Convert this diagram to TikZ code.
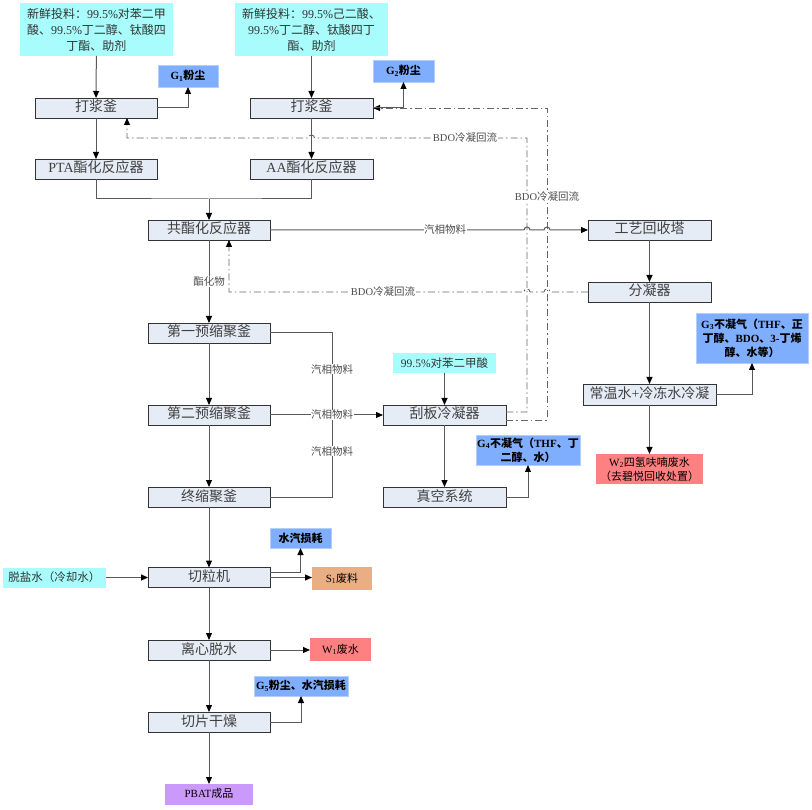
\documentclass[tikz,border=0pt]{standalone}
\usepackage{fontspec}
\setmainfont{Noto Sans CJK SC}
\newfontfamily\latfont{Liberation Serif}
\newcommand\lt[1]{{\latfont #1}}
\usetikzlibrary{arrows.meta,calc,positioning}

\definecolor{procfill}{HTML}{E6ECF6}
\definecolor{feedcyan}{HTML}{A8FCFC}
\definecolor{emisblue}{HTML}{7FAEFE}
\definecolor{wastered}{HTML}{FF8080}
\definecolor{wasteorange}{HTML}{E9AE84}
\definecolor{prodpurple}{HTML}{CB99FB}

\begin{document}
\begin{tikzpicture}[
        x=1pt, y=1pt,
        node distance=40pt,
        proc/.style={draw=black!80, line width=0.9pt, outer sep=0pt, fill=procfill, minimum width=122pt, minimum height=20pt, inner sep=1pt, text height=10.5pt, text depth=2.5pt, font=\fontsize{14}{16}\selectfont, text=black!75},
        feed/.style={fill=feedcyan, inner sep=2pt, outer sep=0pt, align=center, font=\fontsize{12}{16}\selectfont, text=black!80},
        emis/.style={fill=emisblue, draw=emisblue!60!white, outer sep=0pt, align=center, inner sep=1pt, font=\bfseries\fontsize{11}{14}\selectfont},
        waste/.style={align=center, inner sep=1pt, outer sep=0pt, font=\fontsize{11}{14}\selectfont},
        lbl/.style={fill=white, inner sep=0.5pt, font=\fontsize{10.5}{12}\selectfont, text=black!70},
        line/.style={draw=black!65, line width=1pt},
        arrow/.style={line, -{Triangle[length=7pt,width=6pt,color=black]}},
        bdo/.style={draw=black!60, line width=0.9pt, dash pattern=on 7pt off 3pt on 1.5pt off 3pt},
        bdoarrow/.style={bdo, -{Triangle[length=7pt,width=6pt,color=black]}}
    ]
        \useasboundingbox (0,0) rectangle (812,-810);

        % feeds and slurry tanks
        \node[feed, minimum width=153pt, minimum height=53pt] (feed1) at (96.5,-29.5) {新鲜投料：\lt{99.5\%}对苯二甲\\酸、\lt{99.5\%}丁二醇、钛酸四\\丁酯、助剂};
        \node[feed, minimum width=153pt, minimum height=53pt] (feed2) at (311.5,-29.5) {新鲜投料：\lt{99.5\%}己二酸、\\\lt{99.5\%}丁二醇、钛酸四丁\\酯、助剂};
        \node[proc] (slurry1) at (96,-108) {打浆釜};
        \node[proc, minimum width=123pt] (slurry2) at (311.5,-108) {打浆釜};
        \node[proc, below=41pt of slurry1] (pta) {\lt{PTA}酯化反应器};
        \node[proc, minimum width=123pt, below=41pt of slurry2] (aa) {\lt{AA}酯化反应器};
        \node[emis, minimum width=60pt, minimum height=22pt] (g1) at (188,-76) {\lt{G\textsubscript{1}}粉尘};
        \node[emis, minimum width=61pt, minimum height=22pt] (g2) at (403.5,-71) {\lt{G\textsubscript{2}}粉尘};

        % main column
        \node[proc] (coest) at (209,-230) {共酯化反应器};
        \node[proc, below=83pt of coest] (pre1) {第一预缩聚釜};
        \node[proc, below=62pt of pre1] (pre2) {第二预缩聚釜};
        \node[proc, below=62pt of pre2] (final) {终缩聚釜};
        \node[proc, below=60.5pt of final] (cutter) {切粒机};
        \node[proc, below=52.5pt of cutter] (centri) {离心脱水};
        \node[proc, below=52pt of centri] (dryer) {切片干燥};
        \node[waste, fill=prodpurple, minimum width=88pt, minimum height=21pt, text height=8.5pt, text depth=2pt, below=52pt of dryer] (pbat) {\lt{PBAT}成品};

        \node[feed, minimum width=103pt, minimum height=20pt, font=\fontsize{11.5}{14}\selectfont] (water) at (54.5,-577.5) {脱盐水（冷却水）};
        \node[emis, minimum width=61pt, minimum height=20pt] (steam) at (300.5,-538) {水汽损耗};
        \node[waste, fill=wasteorange, minimum width=60pt, minimum height=23pt] (s1) at (342,-578.5) {\lt{S\textsubscript{1}}废料};
        \node[waste, fill=wastered, minimum width=61pt, minimum height=23pt] (w1) at (340.5,-649.5) {\lt{W\textsubscript{1}}废水};
        \node[emis, minimum width=94pt, minimum height=20pt] (g5) at (301,-686) {\lt{G\textsubscript{5}}粉尘、水汽损耗};

        % condenser / vacuum
        \node[proc, minimum width=123pt] (scraper) at (444.5,-415) {刮板冷凝器};
        \node[feed, minimum width=103pt, minimum height=20pt, font=\fontsize{11.5}{14}\selectfont] (pta2) at (444.5,-363) {\lt{99.5\%}对苯二甲酸};
        \node[proc, minimum width=123pt, below=62pt of scraper] (vacuum) {真空系统};
        \node[emis, minimum width=104pt, minimum height=30pt] (g4) at (528,-450) {\lt{G\textsubscript{4}}不凝气（\lt{THF}、丁\\二醇、水）};

        % recovery
        \node[proc, minimum width=123pt] (tower) at (649.5,-230) {工艺回收塔};
        \node[proc, minimum width=123pt, below=42pt of tower] (partial) {分凝器};
        \node[proc, minimum width=133pt, minimum height=21pt, below=82pt of partial] (cond) {常温水\lt{+}冷冻水冷凝};
        \node[waste, fill=wastered, minimum width=107pt, minimum height=30pt] (w2) at (649.5,-469) {\lt{W\textsubscript{2}}四氢呋喃废水\\（去碧悦回收处置）};
        \node[emis, minimum width=112pt, minimum height=50pt] (g3) at (752,-338) {\lt{G\textsubscript{3}}不凝气（\lt{THF}、正\\丁醇、\lt{BDO}、\lt{3-}丁烯\\醇、水等）};

        \coordinate (join) at (209,-199);
        \coordinate (bdoA) at (527,-138);
        \coordinate (bdoB) at (547,-108);
        \coordinate (bdoA2) at (127,-138);
        \coordinate (bdoC) at (229,-292);
        \coordinate (vap) at (332,-415);

        % BDO reflux
        \draw[bdoarrow] ([yshift=3pt]scraper.east) -| (bdoA) -- ($(slurry2.south |- bdoA)+(3,0)$) arc[start angle=0,end angle=180,radius=3pt] -- (bdoA2) -- (bdoA2 |- slurry1.south);
        \draw[bdoarrow] ([yshift=-5pt]scraper.east) -| (bdoB) -- (bdoB -| slurry2.east);
        \draw[bdoarrow] (partial.west) -- ($(bdoB |- partial.west)+(3,0)$) arc[start angle=0,end angle=180,radius=3pt] -- ($(bdoA |- partial.west)+(3,0)$) arc[start angle=0,end angle=180,radius=3pt] -- (bdoC) -- (bdoC |- coest.south);
        \node[lbl] at (465,-138) {\lt{BDO}冷凝回流};
        \node[lbl] at (547,-197) {\lt{BDO}冷凝回流};
        \node[lbl] at (383,-292) {\lt{BDO}冷凝回流};

        % connectors
        \draw[arrow] (feed1) -- (slurry1);
        \draw[arrow] (feed2) -- (slurry2);
        \draw[arrow] (slurry1.east) -| (g1.south);
        \draw[arrow] (slurry2.east) -| (g2.south);
        \draw[arrow] (slurry1) -- (pta);
        \draw[arrow] (slurry2) -- (aa);
        \draw[line] (pta.south) |- (join) -| (aa.south);
        \draw[arrow] (join) -- (coest);
        \draw[arrow] (coest.east) -- ($(bdoA |- coest.east)+(-3,0)$) arc[start angle=180,end angle=0,radius=3pt] -- ($(bdoB |- coest.east)+(-3,0)$) arc[start angle=180,end angle=0,radius=3pt] -- (tower.west);
        \node[lbl] at (445,-230) {汽相物料};
        \draw[arrow] (coest) -- node[lbl] {酯化物} (pre1);
        \foreach \a/\b in {pre1/pre2, pre2/final, final/cutter, cutter/centri, centri/dryer, dryer/pbat}
            \draw[arrow] (\a) -- (\b);
        \draw[line] (pre1.east) -| node[lbl, pos=0.72] {汽相物料} (vap);
        \draw[line] (final.east) -| node[lbl, pos=0.78] {汽相物料} (vap);
        \draw[arrow] (pre2.east) -- node[lbl, pos=0.55] {汽相物料} (scraper.west);
        \draw[arrow] (pta2) -- (scraper);
        \draw[arrow] (scraper) -- (vacuum);
        \draw[arrow] (vacuum.east) -| (g4.south);
        \draw[arrow] (tower) -- (partial);
        \draw[arrow] (partial) -- (cond);
        \draw[arrow] (cond.east) -| (g3.south);
        \draw[arrow] (cond) -- (w2);
        \draw[arrow] (water) -- (cutter);
        \draw[arrow] ([yshift=5.5pt]cutter.east) -| (steam.south);
        \draw[arrow] (cutter.east) -- (cutter.east -| s1.west);
        \draw[arrow] (centri.east) -- (centri.east -| w1.west);
        \draw[arrow] (dryer.east) -| (g5.south);
    \end{tikzpicture}
\end{document}
